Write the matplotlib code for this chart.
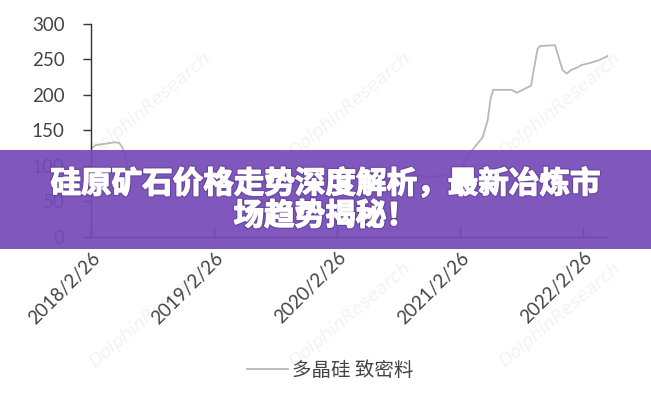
import matplotlib
matplotlib.use("Agg")
import matplotlib.pyplot as plt
import matplotlib.patheffects as pe
from matplotlib.patches import Rectangle
from datetime import datetime

# polysilicon dense material price (middle part is hidden by the banner, estimated)
dates = ["2018-02-26", "2018-03-12", "2018-04-10", "2018-05-07", "2018-05-21", "2018-05-31",
         "2018-06-07", "2018-06-14", "2018-07-02", "2018-08-06", "2018-09-10", "2018-10-15",
         "2018-11-20", "2019-01-14", "2019-03-11", "2019-06-10", "2019-08-12", "2019-10-14",
         "2019-12-16", "2020-02-17", "2020-04-13", "2020-06-08", "2020-07-13", "2020-07-27",
         "2020-08-10", "2020-09-14", "2020-11-09", "2020-12-21", "2021-01-18", "2021-02-26",
         "2021-03-10", "2021-03-26", "2021-05-03", "2021-05-18", "2021-05-26", "2021-06-03",
         "2021-07-28", "2021-08-13", "2021-09-11", "2021-09-24", "2021-09-29", "2021-10-13",
         "2021-10-21", "2021-12-04", "2021-12-26", "2022-01-08", "2022-01-20", "2022-02-05",
         "2022-02-20", "2022-03-18", "2022-04-14", "2022-05-10"]
prices = [124, 129, 131, 133, 132, 125,
          115, 100, 90, 88, 82, 85,
          80, 78, 76, 73, 76, 74,
          73, 72, 65, 60, 62, 80,
          92, 90, 85, 85, 88, 90,
          105, 118, 140, 164, 193, 207,
          207, 203, 210, 213, 228, 265,
          269, 270, 235, 230, 235, 238,
          242, 245, 249, 255]

tick_dates = ["2018-02-26", "2019-02-26", "2020-02-26", "2021-02-26", "2022-02-26"]
tick_labels = ["2018/2/26", "2019/2/26", "2020/2/26", "2021/2/26", "2022/2/26"]
y_ticks = [0, 50, 100, 150, 200, 250, 300]

series_name = "多晶硅 致密料"
title_lines = ["硅原矿石价格走势深度解析，最新冶炼市", "场趋势揭秘！"]

x = [datetime.strptime(d, "%Y-%m-%d") for d in dates]
xt = [datetime.strptime(d, "%Y-%m-%d") for d in tick_dates]

plt.rcParams['font.family'] = ['Lato', 'Noto Sans CJK SC', 'DejaVu Sans']
text_gray = "#444444"

fig = plt.figure(figsize=(6.51, 4.0), dpi=100)
ax = fig.add_axes([91/651, 1 - 236.5/400, (608 - 91)/651, (236.5 - 24)/400])
ax.patch.set_visible(False)

ax.plot(x, prices, color="#b8b8b8", linewidth=1.3, label=series_name)

ax.set_xlim(x[0], x[-1])
ax.set_ylim(0, 300)
ax.set_yticks(y_ticks)
ax.set_xticks(xt)
ax.set_xticklabels(tick_labels, rotation=45, ha="right", va="top", rotation_mode="anchor")

for s in ["top", "right"]:
    ax.spines[s].set_visible(False)
for s in ["left", "bottom"]:
    ax.spines[s].set_color("#333333")
    ax.spines[s].set_linewidth(1.0)

ax.tick_params(axis="y", direction="out", length=6, width=1, colors="#333333",
               labelcolor=text_gray, labelsize=13.5, pad=13)
ax.tick_params(axis="x", direction="in", length=7, width=1, colors="#333333",
               labelcolor=text_gray, labelsize=13.5, pad=9)

leg = ax.legend(loc="center", bbox_to_anchor=(330/651, 1 - 370/400),
                bbox_transform=fig.transFigure, frameon=False,
                handlelength=2.1, handletextpad=0.2, fontsize=14)
for t in leg.get_texts():
    t.set_color(text_gray)
    t.set_fontfamily(['Noto Sans CJK SC', 'DejaVu Sans'])

# faint watermarks, kept under the chart
for wx in [150, 350, 560]:
    for wy in [105, 315]:
        fig.text(wx/651, 1 - wy/400, "DolphinResearch", rotation=40, fontsize=13,
                 style="italic", color="#f3f3f3", ha="center", va="center",
                 family="DejaVu Sans", zorder=-1)

# purple banner over the chart
fig.add_artist(Rectangle((0, 1 - 249/400), 1, (249 - 150)/400, transform=fig.transFigure,
                         facecolor="#754ab8", alpha=0.93, edgecolor="none", zorder=10))
heavy = [pe.Stroke(linewidth=2.6, foreground="#3d2466", alpha=0.35),
         pe.Stroke(linewidth=1.0, foreground="white"),
         pe.Normal()]
for i, line in enumerate(title_lines):
    fig.text(325/651, 1 - (184 + 32 * i)/400, line, color="white", fontsize=22,
             fontweight="bold", family=['Noto Sans CJK SC', 'DejaVu Sans'],
             ha="center", va="center", zorder=11, path_effects=heavy)

fig.savefig("out.png", dpi=100, facecolor="white")
